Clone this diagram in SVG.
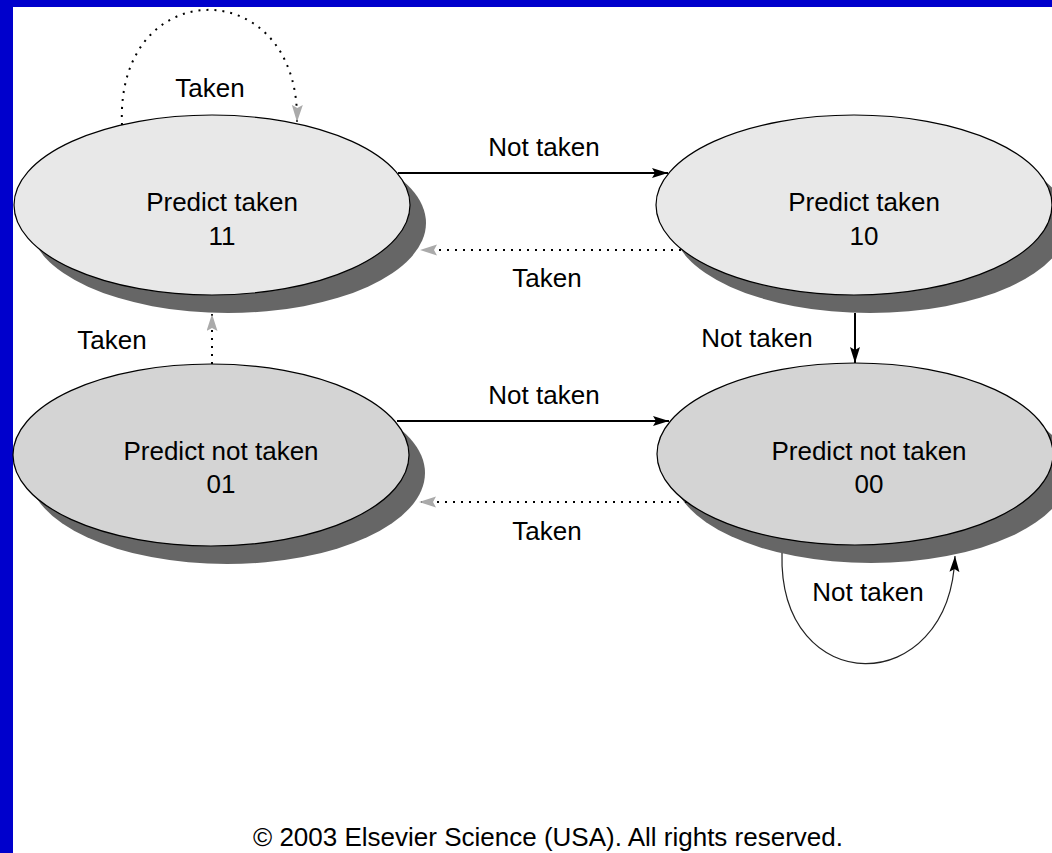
<svg xmlns="http://www.w3.org/2000/svg" width="1052" height="853" viewBox="0 0 1052 853">
  <style>
    text { font-family: "Liberation Sans", Arial, sans-serif; font-size: 26px; fill: #000; text-anchor: middle; }
    .shadow { fill: #666666; }
    .light { fill: #e8e8e8; stroke: #000; stroke-width: 1.2; }
    .dark { fill: #d4d4d4; stroke: #000; stroke-width: 1.2; }
    .solid { fill: none; stroke: #000; stroke-width: 2; marker-end: url(#headBlack); }
    .thin { fill: none; stroke: #222; stroke-width: 1.2; marker-end: url(#headBlack); }
    .dotted { fill: none; stroke: #000; stroke-width: 2; stroke-dasharray: 2 6; marker-end: url(#headGray); }
  </style>
  <defs>
    <marker id="headBlack" markerUnits="userSpaceOnUse" markerWidth="18" markerHeight="12" refX="16" refY="5" orient="auto">
      <path d="M0,0 L16,5 L0,10 L3,5 Z" fill="#000"/>
    </marker>
    <marker id="headGray" markerUnits="userSpaceOnUse" markerWidth="20" markerHeight="12" refX="17" refY="5.5" orient="auto">
      <path d="M0,0 L17,5.5 L0,11 L3,5.5 Z" fill="#aaaaaa"/>
    </marker>
  </defs>

  <!-- page frame -->
  <rect x="0" y="0" width="1052" height="853" fill="#0000cc"/>
  <rect x="13" y="7" width="1039" height="846" fill="#ffffff"/>

  <!-- states -->
  <g id="state-11">
    <ellipse class="shadow" cx="228" cy="223" rx="198" ry="90"/>
    <ellipse class="light" cx="212" cy="205" rx="198" ry="90"/>
    <text x="222" y="211">Predict taken</text>
    <text x="222" y="245">11</text>
  </g>
  <g id="state-10">
    <ellipse class="shadow" cx="870" cy="223" rx="198" ry="90"/>
    <ellipse class="light" cx="854" cy="205" rx="198" ry="90"/>
    <text x="864" y="211">Predict taken</text>
    <text x="864" y="245">10</text>
  </g>
  <g id="state-01">
    <ellipse class="shadow" cx="227" cy="473" rx="198" ry="91"/>
    <ellipse class="dark" cx="211" cy="455" rx="198" ry="91"/>
    <text x="221" y="460">Predict not taken</text>
    <text x="221" y="493">01</text>
  </g>
  <g id="state-00">
    <ellipse class="shadow" cx="871" cy="472" rx="198" ry="91"/>
    <ellipse class="dark" cx="855" cy="454" rx="198" ry="91"/>
    <text x="869" y="460">Predict not taken</text>
    <text x="869" y="493">00</text>
  </g>

  <!-- transitions -->
  <g id="connectors">
    <path class="dotted" d="M122,125 C115,-28 300,-28 297,122"/>
    <path class="solid" d="M398,173 L668,173"/>
    <path class="dotted" d="M681,250 L420,250"/>
    <path class="solid" d="M855,313 L855,363"/>
    <path class="dotted" d="M212,364 L212,314"/>
    <path class="solid" d="M397,421 L669,421"/>
    <path class="dotted" d="M687,502 L419,502"/>
    <path class="thin" d="M782,553 C778,700 950,700 955,556"/>
  </g>

  <!-- transition labels -->
  <g id="labels">
    <text x="210" y="97">Taken</text>
    <text x="544" y="156">Not taken</text>
    <text x="547" y="287">Taken</text>
    <text x="112" y="349">Taken</text>
    <text x="757" y="347">Not taken</text>
    <text x="544" y="404">Not taken</text>
    <text x="547" y="540">Taken</text>
    <text x="868" y="601">Not taken</text>
  </g>

  <text id="copyright" x="548" y="846">© 2003 Elsevier Science (USA). All rights reserved.</text>
</svg>
